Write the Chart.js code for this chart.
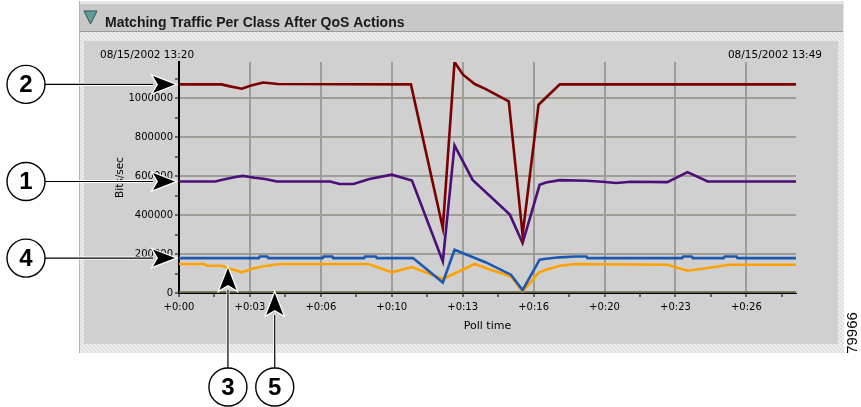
<!DOCTYPE html>
<html>
<head>
<meta charset="utf-8">
<title>Matching Traffic Per Class After QoS Actions</title>
<script src="https://cdn.jsdelivr.net/npm/chart.js@4.4.1/dist/chart.umd.min.js"></script>
<style>
    html, body { margin: 0; padding: 0; background: #fff; }
    #wrap { position: relative; width: 861px; height: 407px; }
</style>
</head>
<body>
<div id="wrap"><canvas id="trafficChart"></canvas></div>
<script>
// Etiquetas de los ejes y del panel
const panelTitle = 'Matching Traffic Per Class After QoS Actions';
const startLabel = '08/15/2002 13:20';
const endLabel = '08/15/2002 13:49';
const xTickLabels = ['+0:00', '+0:03', '+0:06', '+0:10', '+0:13', '+0:16', '+0:20', '+0:23', '+0:26'];
const yTickLabels = ['0', '200000', '400000', '600000', '800000', '1000000'];
const figureId = '79966';

// Tiempo en minutos desde 13:20, trafico en bits/sec por clase
const class2Time = [0, 2.0, 2.4, 2.95, 3.35, 3.95, 4.65, 10.9, 12.4, 12.95, 13.35, 13.9, 14.4, 15.5, 16.15, 16.9, 17.9, 29];
const class2Bits = [1070000, 1070000, 1060000, 1048000, 1063000, 1080000, 1072000, 1070000, 333000, 1185000, 1120000, 1072000, 1047000, 983000, 299000, 966000, 1070000, 1070000];

const class1Time = [0, 1.7, 2.25, 2.65, 3.0, 3.55, 4.05, 4.6, 7.1, 7.55, 8.2, 8.95, 10.0, 10.95, 12.4, 12.95, 13.8, 15.55, 16.15, 16.95, 17.25, 17.9, 19.15, 19.9, 20.55, 21.25, 22.95, 23.9, 24.85, 29];
const class1Bits = [572000, 572000, 586000, 595000, 601000, 591000, 585000, 572000, 572000, 559000, 559000, 585000, 607000, 577000, 162000, 757000, 580000, 402000, 256000, 555000, 567000, 579000, 576000, 571000, 564000, 571000, 569000, 620000, 572000, 572000];

const class4Time = [0, 3.75, 3.8, 4.15, 4.2, 6.75, 6.8, 7.2, 7.25, 8.7, 8.75, 9.25, 9.3, 11.0, 12.4, 12.95, 14.4, 15.6, 16.15, 16.95, 17.25, 17.9, 18.65, 19.15, 19.2, 23.65, 23.7, 24.1, 24.15, 25.6, 25.65, 26.2, 26.25, 29];
const class4Bits = [179000, 179000, 187000, 187000, 179000, 179000, 187000, 187000, 179000, 179000, 187000, 187000, 179000, 179000, 54000, 222000, 158000, 94000, 15000, 171000, 176000, 183000, 187000, 187000, 179000, 179000, 187000, 187000, 179000, 179000, 187000, 187000, 179000, 179000];

const class3Time = [0, 1.2, 1.3, 2.0, 2.3, 2.95, 3.4, 3.9, 4.75, 8.9, 10.0, 10.95, 12.4, 13.9, 14.4, 15.6, 16.15, 16.9, 17.25, 17.9, 18.65, 22.95, 23.9, 24.85, 25.85, 29];
const class3Bits = [149000, 149000, 140000, 140000, 128000, 106000, 123000, 136000, 149000, 149000, 106000, 133000, 72000, 149000, 128000, 85000, 8000, 103000, 119000, 140000, 149000, 145000, 114000, 128000, 145000, 145000];

const class5Time = [0, 4.5, 29];
const class5Bits = [0, 0, 0];

const pollMinutes = 29;      // 13:20 -> 13:49
const tickStep = 5 / 3;      // una marca cada 100 s, etiqueta cada 200 s
const yMax = 1185000;

function toPoints(times, values) {
    return times.map(function (t, i) { return { x: t, y: values[i] }; });
}

// Fondo rayado del marco
function hatchPattern(ctx) {
    const c = document.createElement('canvas');
    c.width = 4; c.height = 4;
    const p = c.getContext('2d');
    p.fillStyle = '#ececec';
    p.fillRect(0, 0, 4, 4);
    p.fillStyle = '#d8d8d8';
    for (let i = 0; i < 4; i++) p.fillRect(i, i, 1, 1);
    return ctx.createPattern(c, 'repeat');
}

function drawArrow(ctx, x1, y1, x2, y2) {
    const ang = Math.atan2(y2 - y1, x2 - x1);
    const cos = Math.cos(ang), sin = Math.sin(ang);
    const headLen = 22, headW = 8.5;
    const bx = x2 - headLen * cos, by = y2 - headLen * sin;
    ctx.save();
    ctx.lineCap = 'butt';
    ctx.strokeStyle = '#fff';
    ctx.lineWidth = 3;
    ctx.beginPath(); ctx.moveTo(x1, y1); ctx.lineTo(bx, by); ctx.stroke();
    ctx.strokeStyle = '#000';
    ctx.lineWidth = 1.2;
    ctx.beginPath(); ctx.moveTo(x1, y1); ctx.lineTo(bx, by); ctx.stroke();
    // punta
    const nx = x2 - (headLen - 5) * cos, ny = y2 - (headLen - 5) * sin;
    ctx.beginPath();
    ctx.moveTo(x2, y2);
    ctx.lineTo(bx - headW * sin, by + headW * cos);
    ctx.lineTo(nx, ny);
    ctx.lineTo(bx + headW * sin, by - headW * cos);
    ctx.closePath();
    ctx.lineJoin = 'miter';
    ctx.strokeStyle = '#fff';
    ctx.lineWidth = 2.5;
    ctx.stroke();
    ctx.fillStyle = '#000';
    ctx.fill();
    ctx.restore();
}

function drawBadge(ctx, cx, cy, text) {
    ctx.save();
    ctx.beginPath();
    ctx.arc(cx, cy, 19, 0, Math.PI * 2);
    ctx.fillStyle = '#fff';
    ctx.fill();
    ctx.strokeStyle = '#000';
    ctx.lineWidth = 1.4;
    ctx.stroke();
    ctx.fillStyle = '#000';
    ctx.font = 'bold 24px "Liberation Sans", Arial, sans-serif';
    ctx.textAlign = 'center';
    ctx.textBaseline = 'middle';
    ctx.fillText(text, cx, cy + 1);
    ctx.restore();
}

const panelPlugin = {
    id: 'qosPanel',
    beforeDraw: function (chart) {
        const ctx = chart.ctx;
        const hatch = hatchPattern(ctx);
        ctx.save();
        ctx.fillStyle = '#fff';
        ctx.fillRect(0, 0, chart.width, chart.height);
        // barra de titulo
        ctx.fillStyle = hatch;
        ctx.fillRect(79, 1, 765, 34);
        ctx.fillStyle = '#c8c8c8';
        ctx.fillRect(80, 4, 763, 27);
        ctx.fillStyle = '#9c9c9c';
        ctx.fillRect(80, 31, 763, 1);
        // cuerpo
        ctx.fillStyle = hatch;
        ctx.fillRect(79, 35, 765, 318);
        ctx.fillStyle = '#d0d0d0';
        ctx.fillRect(84, 41, 754, 303);
        ctx.fillStyle = '#b4b4b4';
        ctx.fillRect(79, 1, 1, 352);
        // icono
        ctx.beginPath();
        ctx.moveTo(84, 11); ctx.lineTo(97, 11); ctx.lineTo(90.5, 24); ctx.closePath();
        ctx.fillStyle = '#5e9e9e';
        ctx.fill();
        ctx.strokeStyle = '#2f4f4f';
        ctx.lineWidth = 1;
        ctx.stroke();
        ctx.fillStyle = '#1a1a1a';
        ctx.font = 'bold 14px "Liberation Sans", Arial, sans-serif';
        ctx.textAlign = 'left';
        ctx.textBaseline = 'middle';
        ctx.fillText(panelTitle, 105, 23);
        // fechas
        ctx.fillStyle = '#000';
        ctx.font = '10.5px "DejaVu Sans", sans-serif';
        ctx.fillText(startLabel, 100, 55);
        ctx.textAlign = 'right';
        ctx.fillText(endLabel, 822, 55);
        ctx.restore();
    },
    afterDraw: function (chart) {
        const ctx = chart.ctx;
        const area = chart.chartArea;
        const x = chart.scales.x, y = chart.scales.y;
        // llamadas a la izquierda, al primer sondeo de cada clase
        [['2', class2Bits[0]], ['1', class1Bits[0]], ['4', class4Bits[0]]].forEach(function (c) {
            const py = y.getPixelForValue(c[1]);
            drawArrow(ctx, 45, py, area.left - 4, py);
            drawBadge(ctx, 26, py, c[0]);
        });
        // llamadas de abajo
        const x3 = x.getPixelForValue(class3Time[4]);
        drawArrow(ctx, x3, 368, x3, y.getPixelForValue(class3Bits[4]));
        drawBadge(ctx, x3, 387, '3');
        const x5 = x.getPixelForValue(class5Time[1]);
        drawArrow(ctx, x5, 368, x5, y.getPixelForValue(class5Bits[1]));
        drawBadge(ctx, x5, 387, '5');
        // numero de figura
        ctx.save();
        ctx.translate(853, 333);
        ctx.rotate(-Math.PI / 2);
        ctx.fillStyle = '#000';
        ctx.font = '15px "Liberation Sans", Arial, sans-serif';
        ctx.textAlign = 'center';
        ctx.textBaseline = 'middle';
        ctx.fillText(figureId, 0, 0);
        ctx.restore();
    }
};

const xTickValues = [];
for (let t = 0; t < pollMinutes; t += tickStep) xTickValues.push(t);
const yTickValues = [];
for (let v = 0; v <= 1100000; v += 100000) yTickValues.push(v);

const gridGrey = '#9e9e96';

Chart.defaults.font.family = '"DejaVu Sans", sans-serif';
Chart.defaults.font.size = 10;
Chart.defaults.color = '#000';

const ctx1 = document.getElementById('trafficChart').getContext('2d');
new Chart(ctx1, {
    type: 'line',
    data: {
        datasets: [
            { label: 'Class 2', data: toPoints(class2Time, class2Bits), borderColor: '#7a0000', borderWidth: 2.6 },
            { label: 'Class 1', data: toPoints(class1Time, class1Bits), borderColor: '#4b0f78', borderWidth: 2.6 },
            { label: 'Class 4', data: toPoints(class4Time, class4Bits), borderColor: '#1d58b0', borderWidth: 2.6 },
            { label: 'Class 3', data: toPoints(class3Time, class3Bits), borderColor: '#ffa200', borderWidth: 2.6 },
            { label: 'Class 5', data: toPoints(class5Time, class5Bits), borderColor: '#62623c', borderWidth: 3.5 }
        ]
    },
    options: {
        responsive: true,
        maintainAspectRatio: false,
        animation: false,
        layout: { padding: { left: 110, top: 62, right: 65, bottom: 70 } },
        plugins: { legend: { display: false }, tooltip: { enabled: false } },
        elements: { point: { radius: 0 }, line: { tension: 0, fill: false } },
        scales: {
            x: {
                type: 'linear',
                min: 0,
                max: pollMinutes,
                afterBuildTicks: function (scale) {
                    scale.ticks = xTickValues.map(function (v) { return { value: v }; });
                },
                afterFit: function (scale) { scale.height = 44; },
                grid: {
                    color: function (c) { return c.index % 2 === 0 ? gridGrey : 'rgba(0,0,0,0)'; },
                    lineWidth: 2,
                    tickColor: '#000',
                    tickLength: 4,
                    tickWidth: 1
                },
                border: { color: '#000', width: 1 },
                ticks: {
                    autoSkip: false,
                    maxRotation: 0,
                    padding: 4,
                    callback: function (v, i) { return i % 2 === 0 ? xTickLabels[i / 2] : ''; }
                },
                title: { display: true, text: 'Poll time', font: { size: 11 }, padding: { top: 4, bottom: 4 } }
            },
            y: {
                min: 0,
                max: yMax,
                afterBuildTicks: function (scale) {
                    scale.ticks = yTickValues.map(function (v) { return { value: v }; });
                },
                afterFit: function (scale) { scale.width = 69; },
                grid: {
                    color: function (c) { return c.index % 2 === 0 ? gridGrey : 'rgba(0,0,0,0)'; },
                    lineWidth: 2,
                    tickColor: '#000',
                    tickLength: 4,
                    tickWidth: 1
                },
                border: { color: '#000', width: 2 },
                ticks: {
                    autoSkip: false,
                    padding: 2,
                    callback: function (v, i) { return i % 2 === 0 ? yTickLabels[i / 2] : ''; }
                },
                title: { display: true, text: 'Bits/sec', font: { size: 10.5 }, padding: { top: 4, bottom: 4 } }
            }
        }
    },
    plugins: [panelPlugin]
});
</script>
</body>
</html>
